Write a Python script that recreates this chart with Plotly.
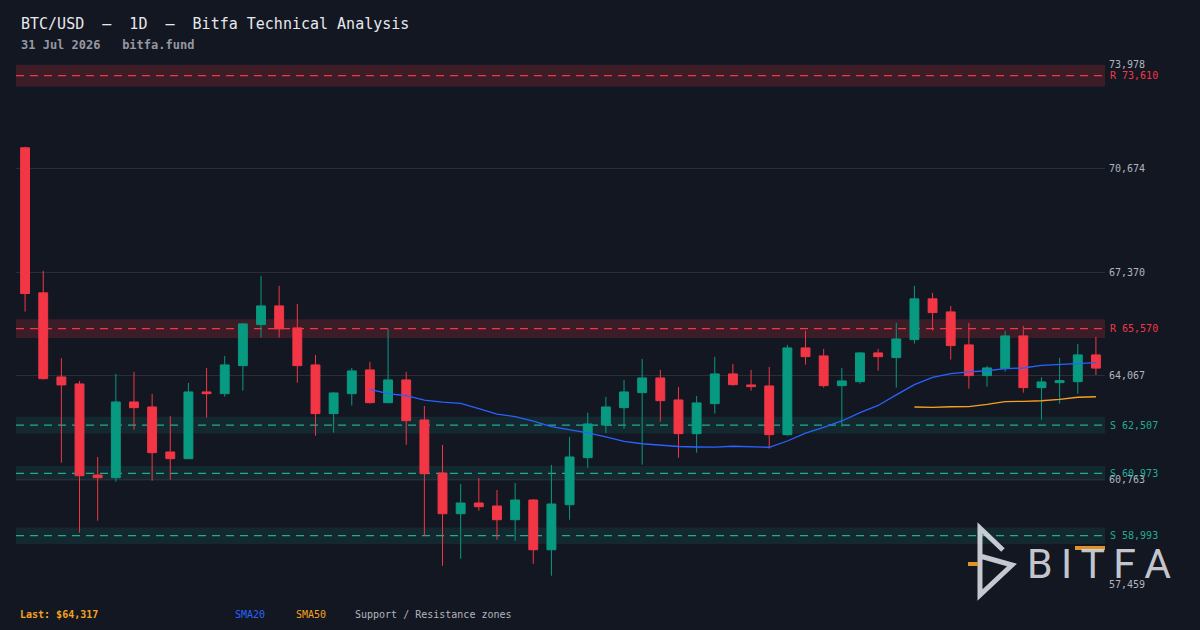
import plotly.graph_objects as go
import pandas as pd

# daily candles, 2 Jun - 31 Jul 2026
opens = [71317, 66708, 64037, 63814, 60921, 60836, 63242, 63083, 61653, 61440,
         63560, 63506, 64396, 65700, 66294, 65595, 64419, 62871, 63506, 64260,
         63220, 63942, 62670, 60985, 59692, 60032, 59937, 59501, 60127, 58547,
         59978, 61472, 62511, 63061, 63538, 64005, 63306, 62235, 63189, 64133,
         63783, 63751, 62203, 64959, 64705, 63760, 63887, 64800, 64651, 65223,
         66517, 66103, 65055, 64078, 64301, 65341, 63697, 63856, 63887, 64737]
highs = [71349, 67407, 64636, 63910, 61494, 64133, 64196, 63497, 62798, 63846,
         64323, 64705, 65754, 67248, 66930, 66358, 64737, 63560, 64323, 64514,
         65563, 64196, 63115, 61876, 60636, 60826, 60445, 60668, 60159, 61240,
         62130, 62903, 63401, 63942, 64609, 64260, 63719, 63433, 64673, 64450,
         64260, 64355, 65055, 65500, 64928, 64323, 64832, 64928, 65754, 66930,
         66708, 66294, 65754, 64387, 65500, 65659, 64027, 64641, 65086, 65309]
lows = [66113, 63950, 61313, 59088, 59469, 60709, 62362, 60741, 60773, 61440,
        62743, 63411, 63602, 65287, 65287, 63856, 62171, 62267, 63125, 63189,
        63220, 61885, 58983, 58039, 58261, 59787, 58865, 58833, 58102, 57721,
        59501, 61154, 62257, 62394, 61250, 62617, 61472, 61631, 62871, 63760,
        63602, 61758, 62171, 64428, 63697, 62457, 63824, 64237, 63697, 65096,
        65509, 64587, 63665, 63729, 64206, 63538, 62680, 63189, 63506, 64100]
closes = [66686, 63983, 63783, 60899, 60836, 63242, 63061, 61630, 61440, 63560,
          63506, 64419, 65722, 66294, 65563, 64396, 62871, 63528, 64228, 63220,
          63942, 62648, 60963, 59692, 60032, 59914, 59501, 60127, 58547, 60000,
          61494, 62543, 63083, 63560, 64005, 63284, 62235, 63211, 64133, 63792,
          63729, 62203, 64959, 64682, 63760, 63910, 64800, 64682, 65245, 66517,
          66081, 65032, 64078, 64323, 65341, 63697, 63878, 63920, 64737, 64317]

dates = pd.date_range(end="2026-07-31", periods=len(closes), freq="D")

# support / resistance zones: (kind, level, half width)
zone_kind = ["R", "R", "S", "S", "S"]
zone_level = [73610, 65570, 62507, 60973, 58993]
zone_half = [345, 296, 265, 235, 260]

y_ticks = [57459, 60763, 64067, 67370, 70674, 73978]

BG = "#131722"
GREEN = "#089981"
RED = "#f23645"
TEAL = "#22ab94"
BLUE = "#2962ff"
ORANGE = "#f6a21e"
MONO = "DejaVu Sans Mono"

df = pd.DataFrame({"open": opens, "high": highs, "low": lows, "close": closes}, index=dates)
sma20 = df["close"].rolling(20).mean()
sma50 = df["close"].rolling(50).mean()

fig = go.Figure()

fig.add_trace(go.Candlestick(
    x=dates, open=df["open"], high=df["high"], low=df["low"], close=df["close"],
    increasing=dict(line=dict(color=GREEN, width=1), fillcolor=GREEN),
    decreasing=dict(line=dict(color=RED, width=1), fillcolor=RED),
    whiskerwidth=0, name="BTC/USD"
))
fig.add_trace(go.Scatter(x=dates, y=sma20, mode="lines",
                         line=dict(color=BLUE, width=1.3), name="SMA20"))
fig.add_trace(go.Scatter(x=dates, y=sma50, mode="lines",
                         line=dict(color=ORANGE, width=1.3), name="SMA50"))

shapes = []
annotations = []
for kind, level, half in zip(zone_kind, zone_level, zone_half):
    col = RED if kind == "R" else TEAL
    fill = "rgba(242,54,69,0.18)" if kind == "R" else "rgba(34,171,148,0.12)"
    shapes.append(dict(type="rect", xref="paper", yref="y", x0=0, x1=1,
                       y0=level - half, y1=level + half,
                       fillcolor=fill, line=dict(width=0), layer="below"))
    shapes.append(dict(type="line", xref="paper", yref="y", x0=0, x1=1,
                       y0=level, y1=level,
                       line=dict(color=col, width=1.2, dash="8px,6px"), layer="below"))
    annotations.append(dict(xref="paper", yref="y", x=1, y=level, xanchor="left",
                            xshift=3, text=f"{kind} {level:,}", showarrow=False,
                            font=dict(family=MONO, size=10, color=col)))

# header
annotations.append(dict(xref="paper", yref="paper", x=0, y=1, xanchor="left", yanchor="middle",
                        xshift=3, yshift=40, showarrow=False,
                        text="BTC/USD  —  1D  —  Bitfa Technical Analysis",
                        font=dict(family=MONO, size=15, color="#e6e8ee")))
annotations.append(dict(xref="paper", yref="paper", x=0, y=1, xanchor="left", yanchor="middle",
                        xshift=3, yshift=19, showarrow=False,
                        text="<b>31 Jul 2026   bitfa.fund</b>",
                        font=dict(family=MONO, size=12, color="#9598a1")))

# footer
footer = [("<b>Last: $%s</b>" % f"{closes[-1]:,}", ORANGE, 2),
          ("SMA20", BLUE, 217),
          ("SMA50", ORANGE, 278),
          ("Support / Resistance zones", "#b2b5be", 337)]
for txt, col, shift in footer:
    annotations.append(dict(xref="paper", yref="paper", x=0, y=0, xanchor="left", yanchor="middle",
                            xshift=shift, yshift=-30, showarrow=False, text=txt,
                            font=dict(family=MONO, size=10, color=col)))

# watermark logo
PW, PH, L, B = 1089, 520, 16, 584
def px(x, y):
    return (x - L) / PW, (B - y) / PH

def path(points):
    return " ".join(("M" if i == 0 else "L") + " %.4f,%.4f" % px(*p) for i, p in enumerate(points))

logo_col = "rgba(215,216,222,0.92)"
shapes.append(dict(type="path", xref="paper", yref="paper",
                   path=path([(1003, 550), (980, 528), (980, 595), (1012, 565), (980, 556)]),
                   line=dict(color=logo_col, width=5)))
for x0, x1, y0, y1 in [(968, 978, 562, 566), (1075, 1105, 546, 550)]:
    a0, b0 = px(x0, y1)
    a1, b1 = px(x1, y0)
    shapes.append(dict(type="rect", xref="paper", yref="paper", x0=a0, x1=a1, y0=b0, y1=b1,
                       fillcolor="#e0922a", line=dict(width=0)))
lx, ly = px(1099, 564)
annotations.append(dict(xref="paper", yref="paper", x=lx, y=ly, xanchor="center", yanchor="middle",
                        showarrow=False, text="B\u2009I\u2009T\u2009F\u2009A",
                        font=dict(family="Roboto", size=41, color=logo_col)))

fig.update_layout(
    width=1200, height=630,
    paper_bgcolor=BG, plot_bgcolor=BG,
    margin=dict(l=16, r=95, t=64, b=46),
    showlegend=False,
    shapes=shapes,
    annotations=annotations,
    xaxis=dict(visible=False, rangeslider=dict(visible=False),
               range=[dates[0] - pd.Timedelta(hours=12), dates[-1] + pd.Timedelta(hours=12)]),
    yaxis=dict(side="right", range=[y_ticks[0], y_ticks[-1]], tickvals=y_ticks,
               tickformat=",.0f", showgrid=True, gridcolor="#2a2e39", gridwidth=1,
               zeroline=False, showline=False, ticks="", ticklabelstandoff=3,
               tickfont=dict(family=MONO, size=10, color="#b2b5be")),
)

fig.write_html("out.html", config={"displayModeBar": False},
               post_script="document.body.style.margin='0';")
